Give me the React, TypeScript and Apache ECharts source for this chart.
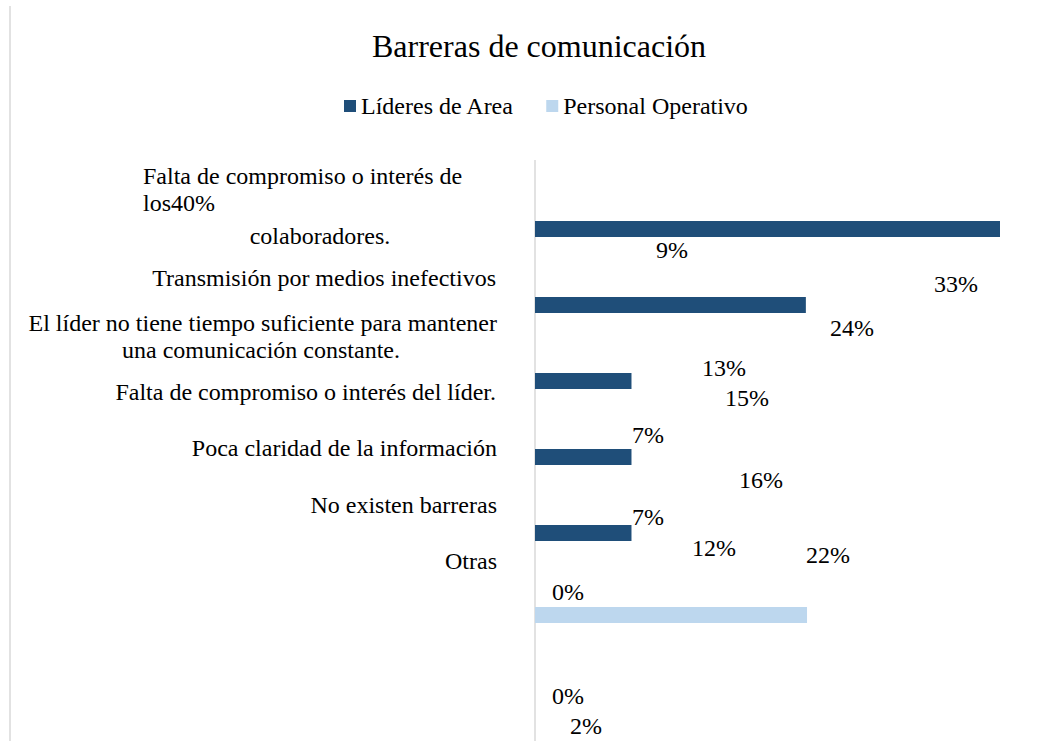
import React, { useEffect, useRef } from "react";
import * as echarts from "echarts";

// ---- data ----
const categories = [
  "Falta de compromiso o interés de los colaboradores.",
  "Transmisión por medios inefectivos",
  "El líder no tiene tiempo suficiente para mantener una comunicación constante.",
  "Falta de compromiso o interés del líder.",
  "Poca claridad de la información",
  "No existen barreras",
  "Otras",
];
const lideresValues = [40, 23.3, 8.3, 8.3, 8.3, null, null];
const personalValues = [null, null, null, null, null, 23.4, null];
const seriesNames = ["Líderes de Area", "Personal Operativo"];
const titleText = "Barreras de comunicación";

// category label lines as they appear in the picture
const categoryLines = [
  "Falta de compromiso o interés de",
  "los40%",
  "colaboradores.",
  "Transmisión por medios inefectivos",
  "El líder no tiene tiempo suficiente para mantener",
  "una comunicación constante.",
  "Falta de compromiso o interés del líder.",
  "Poca claridad de la información",
  "No existen barreras",
  "Otras",
];
// value labels as they appear in the picture
const valueLabels = ["9%", "33%", "24%", "13%", "15%", "7%", "16%", "7%", "12%", "22%", "0%", "0%", "2%"];

// ---- layout (positions only) ----
const categoryLinePos: [number, number, string][] = [
  [143, 176, "left"],
  [143, 203, "left"],
  [320, 236, "center"],
  [496, 278, "right"],
  [497, 323, "right"],
  [261, 350, "center"],
  [496, 392, "right"],
  [497, 448, "right"],
  [497, 505, "right"],
  [497, 561, "right"],
];
const valueLabelPos: [number, number][] = [
  [672, 250], [956, 284], [852, 328], [724, 368], [747, 398], [648, 435],
  [761, 480], [648, 517], [714, 548], [828, 555], [568, 592], [568, 696], [586, 726],
];

const FONT = "'Liberation Serif', 'Times New Roman', serif";
const DARK = "#1F4E79";
const LIGHT = "#BDD7EE";
const GRID = "#D9D9D9";

export default function App() {
  const ref = useRef<HTMLDivElement>(null);
  useEffect(() => {
    if (!ref.current) return;
    const chart = echarts.init(ref.current, undefined, { renderer: "svg" });
    const graphics: any[] = [
      { type: "line", shape: { x1: 10, y1: 6, x2: 10, y2: 741 }, style: { stroke: GRID, lineWidth: 1.5 }, silent: true },
      { type: "line", shape: { x1: 535, y1: 160, x2: 535, y2: 741 }, style: { stroke: GRID, lineWidth: 1.5 }, silent: true },
    ];
    categoryLines.forEach((t, i) => {
      const [x, y, align] = categoryLinePos[i];
      graphics.push({
        type: "text", x, y,
        style: { text: t, font: `24px ${FONT}`, fill: "#000", textAlign: align, textVerticalAlign: "middle" },
        silent: true,
      });
    });
    valueLabels.forEach((t, i) => {
      const [x, y] = valueLabelPos[i];
      graphics.push({
        type: "text", x, y,
        style: { text: t, font: `24px ${FONT}`, fill: "#000", textAlign: "center", textVerticalAlign: "middle" },
        silent: true,
      });
    });
    chart.setOption({
      animation: false,
      backgroundColor: "#fff",
      title: {
        text: titleText,
        left: 367,
        top: 25,
        textStyle: { fontFamily: FONT, fontSize: 32, fontWeight: "normal", color: "#000" },
      },
      legend: {
        data: seriesNames,
        left: 339,
        top: 89,
        icon: "rect",
        itemWidth: 12,
        itemHeight: 12,
        itemGap: 32,
        textStyle: { fontFamily: FONT, fontSize: 24, color: "#000" },
      },
      grid: { left: 535, right: 62, top: 194, height: 532 },
      xAxis: {
        type: "value", min: 0, max: 40, show: false,
      },
      yAxis: {
        type: "category", inverse: true, data: categories,
        axisLine: { show: false }, axisTick: { show: false }, axisLabel: { show: false }, splitLine: { show: false },
      },
      series: [
        { name: seriesNames[0], type: "bar", data: lideresValues, barWidth: 16, barGap: "-62.5%", itemStyle: { color: DARK } },
        { name: seriesNames[1], type: "bar", data: personalValues, barWidth: 16, barGap: "-62.5%", itemStyle: { color: LIGHT } },
      ],
      graphic: graphics,
    });
    return () => chart.dispose();
  }, []);
  return <div ref={ref} style={{ position: "absolute", left: 0, top: 0, width: 1062, height: 741 }} />;
}
